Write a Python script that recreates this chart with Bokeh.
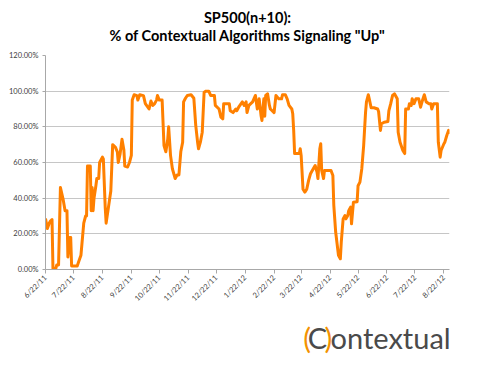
import math
import pandas as pd
from bokeh.plotting import figure
from bokeh.layouts import column
from bokeh.models import Range1d, FixedTicker, PrintfTickFormatter, ColumnDataSource
from bokeh.core.properties import value
from bokeh.embed import file_html
from bokeh.resources import INLINE

# ---- data ----
dates = ["2011-06-22","2011-06-24","2011-06-26","2011-06-27","2011-06-29","2011-06-30","2011-07-03","2011-07-04","2011-07-06","2011-07-08",
         "2011-07-11","2011-07-13","2011-07-15","2011-07-16","2011-07-18","2011-07-19","2011-07-20","2011-07-26","2011-07-28","2011-07-30",
         "2011-08-02","2011-08-04","2011-08-05","2011-08-06","2011-08-09","2011-08-10","2011-08-11","2011-08-12","2011-08-13","2011-08-15",
         "2011-08-16","2011-08-18","2011-08-19","2011-08-22","2011-08-23","2011-08-25","2011-08-26","2011-08-31","2011-09-02","2011-09-05",
         "2011-09-07","2011-09-08","2011-09-10","2011-09-12","2011-09-14","2011-09-15","2011-09-18","2011-09-20","2011-09-22","2011-09-23",
         "2011-09-25","2011-09-28","2011-09-29","2011-10-01","2011-10-05","2011-10-07","2011-10-11","2011-10-13","2011-10-15","2011-10-17",
         "2011-10-19","2011-10-20","2011-10-22","2011-10-25","2011-10-27","2011-10-29","2011-10-31","2011-11-01","2011-11-03","2011-11-05",
         "2011-11-08","2011-11-10","2011-11-12","2011-11-14","2011-11-16","2011-11-17","2011-11-19","2011-11-21","2011-11-25","2011-11-28",
         "2011-11-30","2011-12-02","2011-12-03","2011-12-05","2011-12-07","2011-12-09","2011-12-11","2011-12-14","2011-12-16","2011-12-20",
         "2011-12-21","2011-12-25","2011-12-27","2011-12-29","2011-12-30","2012-01-05","2012-01-06","2012-01-09","2012-01-12","2012-01-13",
         "2012-01-15","2012-01-19","2012-01-21","2012-01-23","2012-01-24","2012-01-26","2012-01-30","2012-02-02","2012-02-04","2012-02-06",
         "2012-02-08","2012-02-09","2012-02-11","2012-02-12","2012-02-13","2012-02-15","2012-02-17","2012-02-18","2012-02-22","2012-02-24",
         "2012-02-27","2012-03-01","2012-03-02","2012-03-05","2012-03-07","2012-03-09","2012-03-12","2012-03-13","2012-03-14","2012-03-15",
         "2012-03-20","2012-03-21","2012-03-22","2012-03-24","2012-03-26","2012-03-28","2012-03-30","2012-04-01","2012-04-04","2012-04-06",
         "2012-04-08","2012-04-09","2012-04-11","2012-04-12","2012-04-13","2012-04-15","2012-04-16","2012-04-23","2012-04-25","2012-04-26",
         "2012-04-28","2012-05-01","2012-05-03","2012-05-04","2012-05-06","2012-05-08","2012-05-09","2012-05-11","2012-05-12","2012-05-14",
         "2012-05-15","2012-05-17","2012-05-21","2012-05-22","2012-05-24","2012-05-26","2012-05-28","2012-05-30","2012-05-31","2012-06-02",
         "2012-06-03","2012-06-05","2012-06-08","2012-06-12","2012-06-13","2012-06-15","2012-06-16","2012-06-19","2012-06-23","2012-06-24",
         "2012-06-26","2012-06-28","2012-06-30","2012-07-03","2012-07-04","2012-07-06","2012-07-09","2012-07-11","2012-07-12","2012-07-15",
         "2012-07-16","2012-07-18","2012-07-19","2012-07-21","2012-07-23","2012-07-26","2012-07-28","2012-07-30","2012-08-01","2012-08-03",
         "2012-08-06","2012-08-08","2012-08-09","2012-08-11","2012-08-15","2012-08-16","2012-08-18","2012-08-19","2012-08-22","2012-08-23",
         "2012-08-25","2012-08-27","2012-08-28"]

pct_up = [28.6, 23, 26, 27, 28, 0.5, 0.5, 2.5, 2.5, 46,
          39, 33, 33, 7, 18, 18, 2, 2, 5, 8,
          26, 30, 30, 58, 58, 33, 46, 33, 40, 47,
          51, 51, 60, 63, 62, 35, 26, 44, 70, 68.5,
          66, 60, 65, 73, 67, 58, 57.5, 60, 64, 95,
          98, 97.5, 95, 98, 97.5, 93, 90, 94.5, 92, 93,
          95, 97.6, 95, 95, 69.5, 66, 73, 80, 64, 56.5,
          51, 53, 53, 66, 71.4, 94, 96, 97.6, 98, 96,
          81, 71.4, 67.7, 71.4, 77, 99.4, 100, 100, 97.6, 97.6,
          92, 90, 85.4, 84.5, 93, 93, 89, 88, 90, 89,
          91, 94, 92, 94, 88, 92, 94, 97.6, 90, 95.7,
          86.4, 83.6, 95.7, 86, 97.6, 98.5, 92, 90, 88, 97.6,
          95.7, 95.7, 98, 98, 95.7, 92, 90, 87.3, 78, 65,
          65, 67.7, 64, 45, 43.4, 45, 50, 53.7, 56.5, 58.3,
          54.6, 51, 67.7, 70.5, 55.5, 51, 55.5, 55.5, 52.7, 36,
          21, 8, 6, 15.3, 28.4, 30.3, 28.4, 30.3, 33, 35,
          25.6, 37.7, 38, 47, 49, 56.5, 69.5, 88, 94, 98,
          95.7, 90.7, 90.7, 90, 88.6, 78, 81.7, 82.6, 83, 89,
          93, 97.6, 98.5, 95.7, 77, 71.4, 66.7, 65, 90, 90,
          93, 92, 95.7, 93, 95.7, 95.7, 91, 94.8, 98, 94,
          93, 93, 90, 93, 93, 71.4, 63, 66.7, 70.5, 71.4,
          75, 78, 76]

tick_dates = ["2011-06-22","2011-07-22","2011-08-22","2011-09-22","2011-10-22","2011-11-22","2011-12-22",
              "2012-01-22","2012-02-22","2012-03-22","2012-04-22","2012-05-22","2012-06-22","2012-07-22","2012-08-22"]
tick_labels = ["6/22/11","7/22/11","8/22/11","9/22/11","10/22/11","11/22/11","12/22/11",
               "1/22/12","2/22/12","3/22/12","4/22/12","5/22/12","6/22/12","7/22/12","8/22/12"]
y_ticks = [0, 20, 40, 60, 80, 100, 120]

title_lines = ["SP500(n+10):", '% of Contextuall Algorithms Signaling "Up"']
logo_parts = ["(", "C", ")", "ontextuall"]
logo_colors = ["#F39200", "#4a4a4a", "#F39200", "#4a4a4a"]

W = 472

def bare(fig):
    fig.background_fill_color = "white"
    fig.border_fill_color = "white"
    fig.outline_line_color = None
    fig.xgrid.grid_line_color = None
    fig.ygrid.grid_line_color = None
    return fig

# ---- title strip ----
top = bare(figure(width=W, height=50, x_range=Range1d(0, W), y_range=Range1d(50, 0),
                  output_backend="svg", toolbar_location=None,
                  x_axis_location=None, y_axis_location=None,
                  min_border=0, min_border_left=0, min_border_right=0, min_border_top=0, min_border_bottom=0))
top.text(x=[236, 236], y=[17, 35], text=title_lines, text_align="center", text_baseline="middle",
         text_font=value("Lato"), text_font_style="bold", text_font_size="14.5px", text_color="#000000")

# ---- main chart ----
def ms(d):
    return pd.Timestamp(d).value / 1e6

src = ColumnDataSource(dict(x=pd.to_datetime(dates), y=pct_up))

p = bare(figure(width=W, height=260, x_axis_type="datetime",
                x_range=Range1d(ms(dates[0]), ms(dates[-1])), y_range=Range1d(0, 120),
                output_backend="svg", toolbar_location=None, title=None,
                min_border_left=45, min_border_right=23, min_border_top=5, min_border_bottom=41))

p.line("x", "y", source=src, line_color="#FF8000", line_width=3, line_join="round")

p.ygrid.grid_line_color = "#c6c6c6"
p.ygrid.grid_line_width = 1

p.yaxis.ticker = FixedTicker(ticks=y_ticks)
p.yaxis.formatter = PrintfTickFormatter(format="%.2f%%")
p.xaxis.ticker = FixedTicker(ticks=[ms(d) for d in tick_dates])
p.xaxis.major_label_overrides = {ms(d): lab for d, lab in zip(tick_dates, tick_labels)}
p.xaxis.major_label_orientation = math.pi / 4

for ax in (p.xaxis, p.yaxis):
    ax.axis_line_color = "#a8a8a8"
    ax.axis_line_width = 1
    ax.major_tick_line_color = "#a8a8a8"
    ax.minor_tick_line_color = None
    ax.major_tick_in = 0
    ax.major_label_text_font = "Lato"
    ax.major_label_text_font_size = "7.5px"
    ax.major_label_text_color = "#404040"
p.yaxis.major_tick_out = 3
p.yaxis.major_label_standoff = 4
p.xaxis.major_tick_out = 4
p.xaxis.major_label_standoff = 3

# ---- logo strip "(C)ontextuall" ----
logo = bare(figure(width=W, height=53, x_range=Range1d(0, W), y_range=Range1d(53, 0),
                   output_backend="svg", toolbar_location=None,
                   x_axis_location=None, y_axis_location=None,
                   min_border=0, min_border_left=0, min_border_right=0, min_border_top=0, min_border_bottom=0))
logo_x = [301, 306.5, 326, 333]
for xx, txt, col in zip(logo_x, logo_parts, logo_colors):
    logo.text(x=[xx], y=[27], text=[txt], text_color=col,
              text_align="left", text_baseline="alphabetic",
              text_font=value("Lato"), text_font_size="29px")

layout = column(top, p, logo, spacing=0)
open("out.html", "w").write(file_html(layout, INLINE))
